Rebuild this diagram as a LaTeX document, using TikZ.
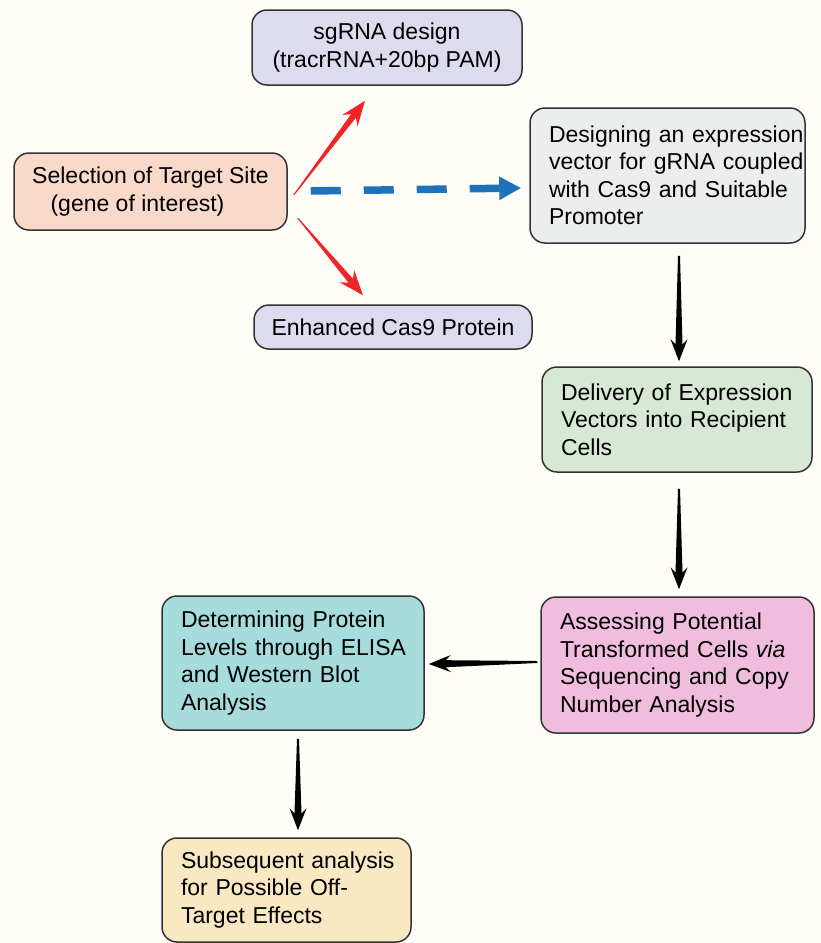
\documentclass[tikz,border=0pt]{standalone}
\usepackage{fontspec}
\setmainfont{Liberation Sans}
\usetikzlibrary{calc,arrows.meta}
\definecolor{bgc}{HTML}{FEFDF8}
\definecolor{bordc}{HTML}{333333}
\definecolor{lavc}{HTML}{DCDCEE}
\definecolor{peachc}{HTML}{F9D9C9}
\definecolor{grayc}{HTML}{ECEEEE}
\definecolor{greenc}{HTML}{D7E8D4}
\definecolor{pinkc}{HTML}{F0BDDD}
\definecolor{tealc}{HTML}{A7DCDC}
\definecolor{yellc}{HTML}{F9E8C2}
\definecolor{redc}{HTML}{EE2626}
\definecolor{bluec}{HTML}{1F72BA}
\hbadness=10000 \hfuzz=200pt
\newcommand\taparrow[8]{%
  \coordinate (tpB) at ($(#2)!#7!(#1)$);
  \coordinate (tpJ) at ($(#2)!#8!(#1)$);
  \fill[#3] ($(#1)!#4!90:(#2)$) -- ($(tpJ)!#5!90:(#2)$) -- ($(tpB)!#6!90:(#2)$) -- (#2)
    -- ($(tpB)!#6!-90:(#2)$) -- ($(tpJ)!#5!-90:(#2)$) -- ($(#1)!#4!-90:(#2)$) -- cycle;}
\newcommand\boxline[1]{\mbox{#1}}
\begin{document}
\begin{tikzpicture}[x=1pt,y=-1pt,
  box/.style={draw=bordc, line width=1.5pt, rounded corners=15pt,
    font=\fontsize{23}{27.5}\selectfont, inner sep=0pt},
  cbox/.style={box, align=center},
  lbox/.style={box, align=left, inner xsep=19pt}]
\fill[bgc] (0,0) rectangle (821,943);
\useasboundingbox (0,0) rectangle (821,943);

\node[cbox, fill=lavc, minimum width=270pt, minimum height=75pt] (sg) at (387,47.5)
  {sgRNA design\\(tracrRNA+20bp PAM)};
\node[cbox, fill=peachc, minimum width=273pt, minimum height=77pt] (sel) at (150.5,191.5)
  {Selection of Target Site\\(gene of interest)\hspace*{26pt}};
\node[lbox, fill=grayc, text width=237pt, minimum height=135pt] (design) at (667.5,175.5)
  {\boxline{Designing an expression}\\\boxline{vector for gRNA coupled}\\\boxline{with Cas9 and Suitable}\\\boxline{Promoter}};
\node[cbox, fill=lavc, minimum width=278pt, minimum height=44pt] (enh) at (393,327)
  {Enhanced Cas9 Protein};
\node[lbox, fill=greenc, text width=232pt, minimum height=105pt] (deliv) at (677,419.5)
  {\boxline{Delivery of Expression}\\\boxline{Vectors into Recipient}\\\boxline{Cells}};
\node[lbox, fill=pinkc, text width=235pt, minimum height=136pt] (assess) at (677.5,665)
  {\boxline{Assessing Potential}\\\boxline{Transformed Cells \textit{via}}\\\boxline{Sequencing and Copy}\\\boxline{Number Analysis}};
\node[lbox, fill=tealc, text width=224pt, minimum height=134pt] (determ) at (293,663)
  {\boxline{Determining Protein}\\\boxline{Levels through ELISA}\\\boxline{and Western Blot}\\\boxline{Analysis}};
\node[lbox, fill=yellc, text width=211pt, minimum height=104pt] (subs) at (286.5,890)
  {\boxline{Subsequent analysis}\\\boxline{for Possible Off-}\\\boxline{Target Effects}};

% red arrows
\coordinate (r1s) at ($(sel.east)+(6,3.5)$);
\coordinate (r1e) at ($(sg.south)+(-22,15)$);
\taparrow{r1s}{r1e}{redc}{0.5pt}{3pt}{9.5pt}{25pt}{19pt}
\coordinate (r2s) at ($(sel.east)+(10,26.5)$);
\coordinate (r2e) at ($(enh.north)+(-30,-9)$);
\taparrow{r2s}{r2e}{redc}{0.5pt}{3pt}{9.5pt}{25pt}{19pt}

% blue dashed arrow
\coordinate (bs) at ($(sel.east)+(23,-0.5)$);
\coordinate (be) at ($(design.west)+(-8,12.5)$);
\draw[bluec, line width=7.5pt, dash pattern=on 30pt off 23pt,
  -{Triangle[length=22pt,width=22pt]}] (bs) -- (be);

% black arrows
\coordinate (k1s) at ($(design.south)+(11.5,12)$);
\coordinate (k1e) at ($(deliv.north)+(2,-5)$);
\taparrow{k1s}{k1e}{black}{1pt}{3.5pt}{8.5pt}{22pt}{17pt}
\coordinate (k2s) at ($(deliv.south)+(2,16)$);
\coordinate (k2e) at ($(assess.north)+(1.5,-7)$);
\taparrow{k2s}{k2e}{black}{1pt}{3.5pt}{8.5pt}{22pt}{17pt}
\coordinate (k3s) at ($(assess.west)+(-3,-3)$);
\coordinate (k3e) at ($(determ.east)+(4,1)$);
\taparrow{k3s}{k3e}{black}{1pt}{3.5pt}{8.5pt}{22pt}{17pt}
\coordinate (k4s) at ($(determ.south)+(5,8)$);
\coordinate (k4e) at ($(subs.north)+(11.5,-7)$);
\taparrow{k4s}{k4e}{black}{1pt}{3.5pt}{8.5pt}{22pt}{17pt}
\end{tikzpicture}
\end{document}
